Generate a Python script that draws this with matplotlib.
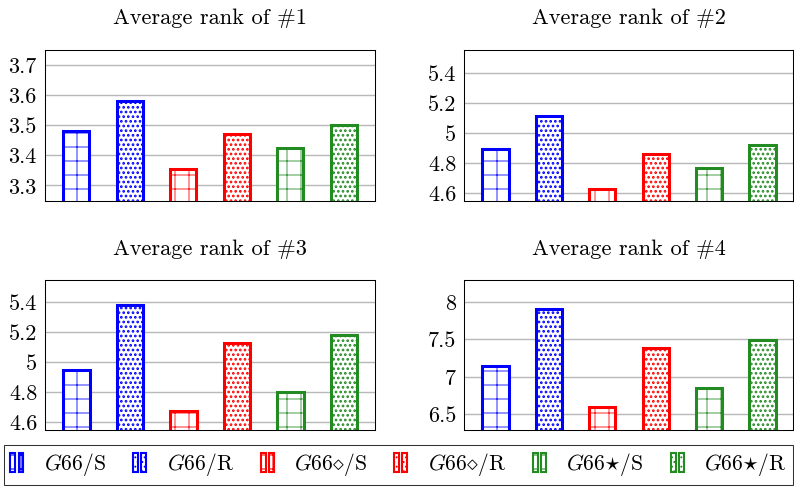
import matplotlib
matplotlib.use("Agg")
import matplotlib.pyplot as plt
from matplotlib.patches import Rectangle
from matplotlib.legend_handler import HandlerBase
from matplotlib.ticker import FormatStrFormatter
import numpy as np

plt.rcParams['font.family'] = 'cmr10'
plt.rcParams['mathtext.fontset'] = 'cm'
plt.rcParams['axes.unicode_minus'] = False
plt.rcParams['axes.formatter.use_mathtext'] = True
plt.rcParams['hatch.linewidth'] = 0.9

# ---- data ----
series_labels = [r'$G66$/S', r'$G66$/R', r'$G66{\diamond}$/S', r'$G66{\diamond}$/R',
                 r'$G66{\star}$/S', r'$G66{\star}$/R']
titles = ['Average rank of #1', 'Average rank of #2',
          'Average rank of #3', 'Average rank of #4']
rank1 = [3.48, 3.58, 3.355, 3.47, 3.425, 3.50]
rank2 = [4.89, 5.11, 4.625, 4.86, 4.765, 4.915]
rank3 = [4.945, 5.38, 4.67, 5.125, 4.80, 5.18]
rank4 = [7.145, 7.90, 6.60, 7.38, 6.85, 7.49]
ylims = [(3.25, 3.75), (4.547, 5.555), (4.545, 5.545), (6.287, 8.29)]
yticks = [[3.3, 3.4, 3.5, 3.6, 3.7], [4.6, 4.8, 5.0, 5.2, 5.4],
          [4.6, 4.8, 5.0, 5.2, 5.4], [6.5, 7.0, 7.5, 8.0]]

colors = ['#0000ff', '#0000ff', '#ff0000', '#ff0000', '#228b22', '#228b22']
hatches = ['+', '...', '+', '...', '+', '...']
hatch_lws = [0.7, 1.5, 0.7, 1.5, 0.7, 1.5]

DPI = 84
fig = plt.figure(figsize=(795 / DPI, 487.3 / DPI), dpi=DPI)

W, H = 795, 487
boxes = [(45, 50, 375, 200.7), (464.5, 50, 793.5, 200.7),
         (45.5, 280, 375, 430), (464.5, 280, 793.5, 430)]
data = [rank1, rank2, rank3, rank4]


def set_hlw(p, lw):
    try:
        p.set_hatch_linewidth(lw)
    except Exception:
        pass


x = np.arange(len(series_labels))
for (x0, y0, x1, y1), vals, title, yl, yt in zip(boxes, data, titles, ylims, yticks):
    ax = fig.add_axes([x0 / W, 1 - y1 / H, (x1 - x0) / W, (y1 - y0) / H])
    for i, v in enumerate(vals):
        bc = ax.bar(x[i], v, width=0.49, color='white', edgecolor=colors[i],
                    hatch=hatches[i], linewidth=2.6, zorder=3)
        for p in bc:
            set_hlw(p, hatch_lws[i])
    ax.set_xlim(-0.58, 5.58)
    ax.set_ylim(*yl)
    ax.set_yticks(yt)
    ax.yaxis.set_major_formatter(FormatStrFormatter('%g'))
    ax.set_xticks([])
    ax.tick_params(axis='y', length=0, labelsize=19, pad=7)
    ax.grid(axis='y', color='#b8b8b8', linewidth=1.2, zorder=0)
    ax.set_axisbelow(True)
    for s in ax.spines.values():
        s.set_linewidth(0.9)
        s.set_zorder(5)
    ax.set_title(title, fontsize=19.2, pad=22)


class TwoBars(HandlerBase):
    def create_artists(self, legend, orig_handle, xdescent, ydescent,
                       width, height, fontsize, trans):
        w = width * 0.38
        arts = []
        for xx in (0, width - w):
            r = Rectangle((xx - xdescent, -ydescent - height * 0.15), w, height * 1.3,
                          facecolor='white', edgecolor=orig_handle.get_edgecolor(),
                          hatch=orig_handle.get_hatch(), linewidth=1.8,
                          transform=trans)
            arts.append(r)
        return arts


handles = [Rectangle((0, 0), 1, 1, facecolor='white', edgecolor=c, hatch=h)
           for c, h in zip(colors, hatches)]
leg = fig.legend(handles, series_labels, ncol=6, loc='center',
                 bbox_to_anchor=(4 / W, 1 - 485 / H, 789 / W, 40.7 / H),
                 mode='expand', fontsize=18.5, frameon=True, fancybox=False,
                 handler_map={Rectangle: TwoBars()}, handlelength=0.6,
                 handletextpad=0.95, borderpad=0.3, borderaxespad=0)
leg.get_frame().set_edgecolor('black')
leg.get_frame().set_linewidth(0.9)

fig.savefig('out.png', dpi=DPI)
